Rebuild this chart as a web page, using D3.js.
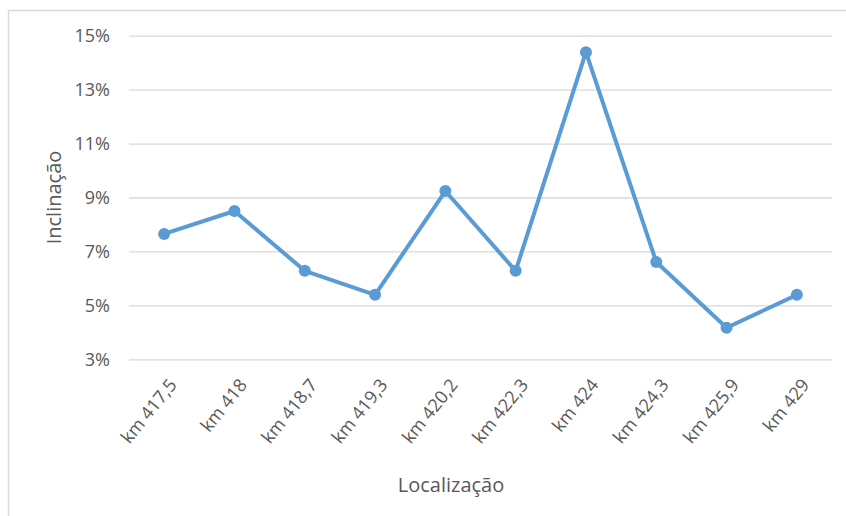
<!DOCTYPE html>
<html>
<head>
<meta charset="utf-8">
<script src="https://cdn.jsdelivr.net/npm/d3@7"></script>
<style>
  html, body { margin: 0; padding: 0; background: #fff; }
  svg { display: block; }
  text { font-family: "Open Sans", sans-serif; fill: #595959; }
</style>
</head>
<body>
<svg id="chart" width="846" height="516"></svg>
<script>
const categories = ["km 417,5", "km 418", "km 418,7", "km 419,3", "km 420,2", "km 422,3", "km 424", "km 424,3", "km 425,9", "km 429"];
const inclinacao = [7.65, 8.5, 6.28, 5.39, 9.24, 6.28, 14.39, 6.61, 4.17, 5.39];
const yTicks = [3, 5, 7, 9, 11, 13, 15];
const yTitle = "Inclinação";
const xTitle = "Localização";

const svg = d3.select("#chart");
const W = 846, H = 516;

// chart border (left and top)
svg.append("line").attr("x1", 8.5).attr("x2", 8.5).attr("y1", 10.5).attr("y2", H)
  .attr("stroke", "#d9d9d9").attr("stroke-width", 1.5);
svg.append("line").attr("x1", 8.5).attr("x2", W).attr("y1", 10.5).attr("y2", 10.5)
  .attr("stroke", "#d9d9d9").attr("stroke-width", 1.5);

const plotL = 129, plotR = 832, plotT = 35.7, plotB = 359.3;

const x = d3.scalePoint().domain(categories).range([plotL, plotR]).padding(0.5);
const y = d3.scaleLinear().domain([3, 15]).range([plotB, plotT]);

// gridlines
const yAxis = d3.axisLeft(y).tickValues(yTicks).tickSize(-(plotR - plotL)).tickPadding(19)
  .tickFormat(d => d + "%");
const gy = svg.append("g").attr("transform", `translate(${plotL},0)`).call(yAxis);
gy.select(".domain").remove();
gy.selectAll(".tick line").attr("stroke", "#d9d9d9").attr("stroke-width", 1.3);
gy.selectAll(".tick text").attr("font-size", 18).attr("fill", "#595959")
  .attr("font-family", "'Open Sans', sans-serif");

// x axis labels
const xAxis = d3.axisBottom(x).tickSize(0).tickPadding(0);
const gx = svg.append("g").attr("transform", `translate(0,${plotB})`).call(xAxis);
gx.select(".domain").remove();
gx.selectAll(".tick text")
  .attr("font-size", 18).attr("fill", "#595959")
  .attr("font-family", "'Open Sans', sans-serif")
  .attr("text-anchor", "end")
  .attr("dy", null)
  .attr("y", null)
  .attr("transform", "translate(13,26) rotate(-51)");

// line
const line = d3.line().x((d, i) => x(categories[i])).y(d => y(d));
svg.append("path").datum(inclinacao)
  .attr("d", line).attr("fill", "none")
  .attr("stroke", "#5b9bd5").attr("stroke-width", 4).attr("stroke-linejoin", "round");

svg.selectAll("circle.pt").data(inclinacao).enter().append("circle")
  .attr("class", "pt")
  .attr("cx", (d, i) => x(categories[i])).attr("cy", d => y(d))
  .attr("r", 6).attr("fill", "#5b9bd5");

// axis titles
svg.append("text").text(yTitle)
  .attr("font-size", 20).attr("text-anchor", "middle")
  .attr("transform", `translate(61,${(plotT + plotB) / 2}) rotate(-90)`);
svg.append("text").text(xTitle)
  .attr("font-size", 20).attr("text-anchor", "middle")
  .attr("x", 451).attr("y", 492);
</script>
</body>
</html>
